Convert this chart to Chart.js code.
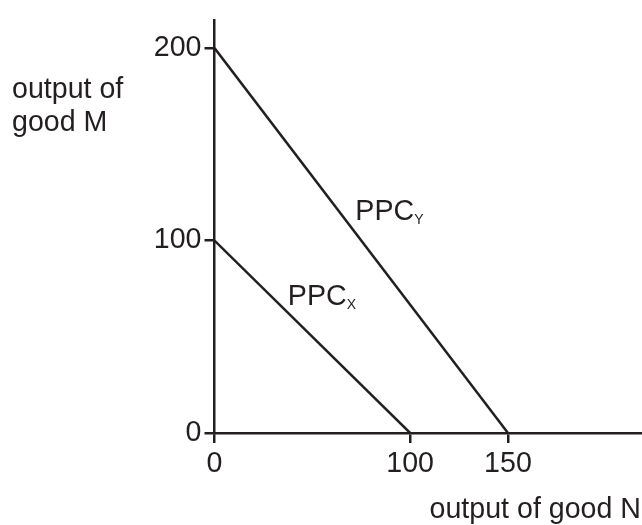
<!DOCTYPE html>
<html>
<head>
<meta charset="utf-8">
<script src="https://cdn.jsdelivr.net/npm/chart.js@4.4.1/dist/chart.umd.min.js"></script>
<style>
  html, body { margin:0; padding:0; background:#fff; }
  #wrap { width:642px; height:525px; }
</style>
</head>
<body>
<div id="wrap"><canvas id="c" width="642" height="525"></canvas></div>
<script>
// PPC end points (output of good N, output of good M)
const ppcX_N = [0, 100];
const ppcX_M = [100, 0];
const ppcY_N = [0, 150];
const ppcY_M = [200, 0];
const xTicks = [0, 100, 150];
const yTicks = [0, 100, 200];

const ink = '#231f20';
const fam = '"Liberation Sans", Arial, sans-serif';
const fs = 28.6;

const pts = (xs, ys) => xs.map((x, i) => ({x, y: ys[i]}));

// labels & axis titles drawn as text
const textPlugin = {
  id: 'texts',
  afterDraw(chart){
    const c = chart.ctx, xs = chart.scales.x, ys = chart.scales.y;
    c.save();
    c.fillStyle = ink;
    c.textBaseline = 'alphabetic';
    c.font = fs + 'px ' + fam;
    c.textAlign = 'left';
    c.fillText('output of', 12, 98);
    c.fillText('good M', 12, 131);
    c.textAlign = 'right';
    c.fillText('output of good N', 641, 518);

    const sub = (main, s, px, py) => {
      c.textAlign = 'left';
      c.font = fs + 'px ' + fam;
      c.fillText(main, px, py);
      const w = c.measureText(main).width;
      c.font = '14px ' + fam;
      c.fillText(s, px + w, py + 4);
    };
    sub('PPC', 'Y', xs.getPixelForValue(72), ys.getPixelForValue(110.5));
    sub('PPC', 'X', xs.getPixelForValue(37.5), ys.getPixelForValue(66.5));
    c.restore();
  }
};

new Chart(document.getElementById('c'), {
  type: 'scatter',
  data: {
    datasets: [
      { data: pts(ppcY_N, ppcY_M) },
      { data: pts(ppcX_N, ppcX_M) }
    ]
  },
  options: {
    responsive: false,
    animation: false,
    showLine: true,
    elements: {
      line: { borderColor: ink, borderWidth: 2.5, tension: 0 },
      point: { radius: 0 }
    },
    layout: { padding: { top: 15, right: 0, left: 0, bottom: 0 } },
    plugins: { legend: { display: false }, tooltip: { enabled: false } },
    scales: {
      x: {
        type: 'linear', min: 0, max: 218.5,
        afterBuildTicks: s => { s.ticks = xTicks.map(v => ({value: v})); },
        afterFit: s => { s.height = 92; },
        grid: { drawOnChartArea: false, drawTicks: true, tickLength: 10, color: ink, lineWidth: 2.5 },
        border: { display: true, color: ink, width: 2.5 },
        ticks: { color: ink, font: { family: fam, size: fs }, padding: 4, maxRotation: 0 }
      },
      y: {
        type: 'linear', min: 0, max: 214.5,
        afterBuildTicks: s => { s.ticks = yTicks.map(v => ({value: v})); },
        afterFit: s => { s.width = 214.5; },
        grid: { drawOnChartArea: false, drawTicks: true, tickLength: 10, color: ink, lineWidth: 2.5 },
        border: { display: true, color: ink, width: 2.5 },
        ticks: { color: ink, font: { family: fam, size: fs }, padding: 3 }
      }
    }
  },
  plugins: [textPlugin]
});
</script>
</body>
</html>
